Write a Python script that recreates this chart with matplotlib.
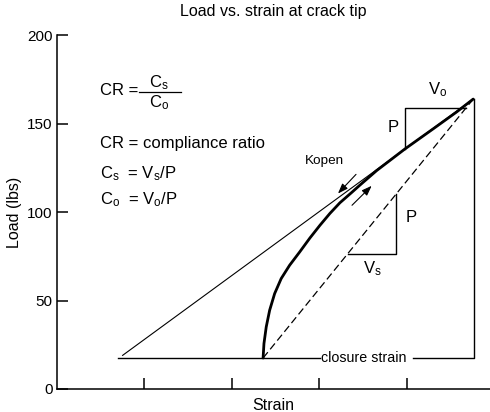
import matplotlib
matplotlib.use("Agg")
import matplotlib.pyplot as plt

plt.rcParams['font.family'] = ['Liberation Sans', 'DejaVu Sans']
plt.rcParams['mathtext.fontset'] = 'custom'
plt.rcParams['mathtext.rm'] = 'Liberation Sans'
plt.rcParams['mathtext.it'] = 'Liberation Sans'
plt.rcParams['mathtext.default'] = 'regular'

# ---- data ----
title = "Load vs. strain at crack tip"
x_label = "Strain"
y_label = "Load (lbs)"
y_ticks = [0, 50, 100, 150, 200]
x_ticks = [1, 2, 3, 4]

# thick loading curve
curve_strain = [2.356, 2.366, 2.392, 2.431, 2.488, 2.563, 2.659, 2.774, 2.891,
                3.006, 3.12, 3.234, 3.368, 3.463, 3.654, 3.977, 4.301, 4.568, 4.758]
curve_load = [17.5, 25.7, 35.1, 44.5, 53.9, 62.4, 69.9, 77.4, 85.3,
              92.5, 99.2, 105.2, 111.0, 115.2, 123.4, 135.6, 147.0, 156.5, 163.8]

# thin opening-compliance line
open_strain = [0.75, 4.758]
open_load = [19, 163.8]

# dashed closure-compliance line
closed_strain = [2.356, 4.758]
closed_load = [17.5, 163.8]

# closure strain level
closure_load = 17.5
closure_left = 0.70
closure_right = 4.765
peak_load = 163.8

# compliance triangles
upper_tri_strain = [3.977, 3.977, 4.68]
upper_tri_load = [135.6, 159, 159]
lower_tri_strain = [3.33, 3.88, 3.88]
lower_tri_load = [76, 76, 110]

fig = plt.figure(figsize=(4.9, 4.12), dpi=100)
ax = fig.add_axes([57/490, 23/412, 433/490, 354/412])
ax.set_xlim(0, 4.95)
ax.set_ylim(0, 200)

for s in ['top', 'right']:
    ax.spines[s].set_visible(False)
for s in ['left', 'bottom']:
    ax.spines[s].set_linewidth(1.1)

ax.set_yticks(y_ticks)
ax.set_xticks(x_ticks)
ax.set_xticklabels([])
ax.tick_params(axis='both', direction='in', length=8, width=1.1, labelsize=11)
ax.tick_params(axis='y', pad=3)

ax.set_title(title, fontsize=11.5, pad=14)
ax.set_xlabel(x_label, fontsize=11.5, labelpad=3)
ax.set_ylabel(y_label, fontsize=11.5, labelpad=4)

# lines
ax.plot(curve_strain, curve_load, color='black', lw=2.0, solid_capstyle='round',
        solid_joinstyle='round')
ax.plot(open_strain, open_load, color='black', lw=0.8)
ax.plot(closed_strain, closed_load, color='black', lw=0.9, dashes=(6, 3))

# closure strain line with gap for label
ax.plot([closure_left, 3.01], [closure_load, closure_load], color='black', lw=1.0)
ax.plot([4.07, closure_right, closure_right], [closure_load, closure_load, peak_load],
        color='black', lw=1.0)
ax.text(3.02, closure_load, "closure strain", fontsize=10.3, ha='left', va='center')

# triangles
ax.plot(upper_tri_strain, upper_tri_load, color='black', lw=1.0)
ax.plot(lower_tri_strain, lower_tri_load, color='black', lw=1.0)
ax.text(4.35, 169, "$V_o$", fontsize=12, ha='center', va='center')
ax.text(3.84, 147.6, "P", fontsize=12, ha='center', va='center')
ax.text(4.05, 97, "P", fontsize=12, ha='center', va='center')
ax.text(3.61, 68, "$V_s$", fontsize=12, ha='center', va='center')

# Kopen arrows
ax.text(3.06, 129, "Kopen", fontsize=9.7, ha='center', va='center')
ax.annotate("", xy=(3.19, 109.3), xytext=(3.44, 122.4),
            arrowprops=dict(arrowstyle='-|>,head_length=0.6,head_width=0.22', color='black', lw=0.8))
ax.annotate("", xy=(3.62, 115.9), xytext=(3.35, 102.7),
            arrowprops=dict(arrowstyle='-|>,head_length=0.6,head_width=0.22', color='black', lw=0.8))

# formulas
ax.text(0.49, 168.5, "CR =", fontsize=12, ha='left', va='center')
ax.plot([0.937, 1.417], [168, 168], color='black', lw=0.9)
ax.text(1.166, 173.3, "$C_s$", fontsize=12, ha='center', va='center')
ax.text(1.166, 162.0, "$C_o$", fontsize=12, ha='center', va='center')
ax.text(0.49, 138.6, "CR = compliance ratio", fontsize=12, ha='left', va='center')
ax.text(0.49, 121.7, "$C_s$  = $V_s$/P", fontsize=12, ha='left', va='center')
ax.text(0.49, 107.0, "$C_o$  = $V_o$/P", fontsize=12, ha='left', va='center')

fig.savefig("out.png", dpi=100)
